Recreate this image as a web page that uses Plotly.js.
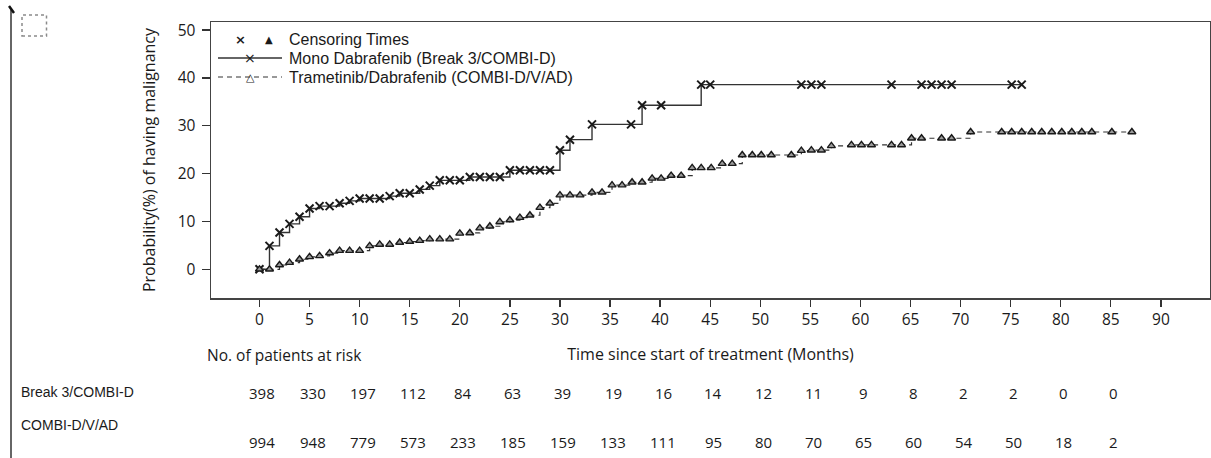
<!DOCTYPE html>
<html>
<head>
<meta charset="utf-8">
<script src="https://cdn.plot.ly/plotly-3.0.1.min.js"></script>
<style>html,body{margin:0;padding:0;background:#fff;}#chart{width:1211px;height:458px;}</style>
</head>
<body>
<div id="chart"></div>
<script>
// ---- Data ----
const monoName = 'Mono Dabrafenib (Break 3/COMBI-D)';
const tramName = 'Trametinib/Dabrafenib (COMBI-D/V/AD)';

// Mono Dabrafenib: months and cumulative probability (%)
const monoTime = [0,1,2,3,4,5,6,7,8,9,10,11,12,13,14,15,16,17,18,19,20,21,22,23,24,25,26,27,28,29,30,31,33.2,37.1,38.2,40.1,44.1,45,54.1,55.1,56.1,63.1,66.1,67.1,68.1,69.1,75.1,76.1];
const monoProb = [0,4.9,7.7,9.5,11.0,12.7,13.2,13.2,13.8,14.3,14.8,14.8,14.8,15.3,15.9,15.9,16.7,17.5,18.6,18.6,18.6,19.3,19.3,19.3,19.3,20.7,20.7,20.7,20.7,20.7,24.9,27.1,30.3,30.3,34.3,34.3,38.6,38.6,38.6,38.6,38.6,38.6,38.6,38.6,38.6,38.6,38.6,38.6];

// Trametinib/Dabrafenib: months and cumulative probability (%)
const tramTime = [0,1,2,3,4,5,6,7,8,9,10,11,12,13,14,15,16,17,18,19,20,21,22,23,24,25,26,27,28,29,30,31,32,33.2,34.2,35.2,36.2,37.2,38.2,39.2,40.1,41.1,42.1,43.2,44.1,45.1,46.2,47.2,48.2,49.2,50.1,51.1,53.1,54.1,55.1,56.1,57.1,59.1,60.1,61.1,63.1,64.1,65.1,66.1,68.1,69.1,71.0,74.1,75.1,76.1,77.1,78.1,79.1,80.1,81.1,82.1,83.1,85.1,87.1];
const tramProb = [0,0,0.9,1.4,2.1,2.6,2.8,3.4,3.9,3.9,3.9,4.9,5.2,5.2,5.6,5.8,6.0,6.3,6.3,6.3,7.5,7.6,8.6,9.0,9.9,10.3,10.8,11.3,12.9,13.8,15.5,15.5,15.5,16.1,16.1,17.6,17.6,18.2,18.2,19.0,19.0,19.6,19.6,21.2,21.2,21.2,22.1,22.1,23.9,23.9,23.9,23.9,23.9,24.8,24.9,24.9,25.8,26.0,26.0,26.0,26.0,26.0,27.4,27.4,27.4,27.4,28.7,28.7,28.7,28.7,28.7,28.7,28.7,28.7,28.7,28.7,28.7,28.7,28.7];

// Number at risk table
const riskTimes = [0,5,10,15,20,25,30,35,40,45,50,55,60,65,70,75,80,85];
const riskMono = [398,330,197,112,84,63,39,19,16,14,12,11,9,8,2,2,0,0];
const riskTram = [994,948,779,573,233,185,159,133,111,95,80,70,65,60,54,50,18,2];
const riskRowLabels = ['Break 3/COMBI-D','COMBI-D/V/AD'];

// Axis ticks
const xTicks = [0,5,10,15,20,25,30,35,40,45,50,55,60,65,70,75,80,85,90];
const yTicks = [0,10,20,30,40,50];

// ---- Layout helpers (pixel -> paper) ----
const W = 1211, H = 458, ML = 211, MR = 1, MT = 22, MB = 160;
const PW = W - ML - MR, PH = H - MT - MB;
const fx = px => (px - ML) / PW;
const fy = py => (H - MB - py) / PH;

const ink = '#1a1a1a';
const lineCol = '#333333';

const traces = [
  {
    x: monoTime, y: monoProb, type: 'scatter', mode: 'lines+markers', name: monoName,
    line: {shape: 'hv', color: lineCol, width: 1.4},
    marker: {symbol: 'x-thin-open', size: 8, color: ink, line: {color: ink, width: 2}},
    hoverinfo: 'skip'
  },
  {
    x: tramTime, y: tramProb, type: 'scatter', mode: 'lines+markers', name: tramName,
    line: {shape: 'hv', color: lineCol, width: 1.2, dash: '5px,4px'},
    marker: {symbol: 'triangle-up', size: 7, color: '#9a9a9a', line: {color: ink, width: 1.4}},
    hoverinfo: 'skip'
  }
];

const legFont = {family: 'Liberation Sans, Arial, sans-serif', size: 16, color: ink};
const annotations = [];
// legend rows
annotations.push({xref:'paper', yref:'paper', x: fx(240), y: fy(39), text:'<b>×</b>', showarrow:false, xanchor:'center', yanchor:'middle', font:{family:'DejaVu Sans', size:13, color:ink}});
annotations.push({xref:'paper', yref:'paper', x: fx(269), y: fy(39), text:'▲', showarrow:false, xanchor:'center', yanchor:'middle', font:{family:'DejaVu Sans', size:10, color:ink}});
annotations.push({xref:'paper', yref:'paper', x: fx(287), y: fy(39), text:'Censoring Times', showarrow:false, xanchor:'left', yanchor:'middle', font:legFont});
annotations.push({xref:'paper', yref:'paper', x: fx(250), y: fy(58), text:'×', showarrow:false, xanchor:'center', yanchor:'middle', font:{family:'DejaVu Sans', size:14, color:ink}});
annotations.push({xref:'paper', yref:'paper', x: fx(287), y: fy(58), text:monoName, showarrow:false, xanchor:'left', yanchor:'middle', font:legFont});
annotations.push({xref:'paper', yref:'paper', x: fx(250), y: fy(77), text:'△', showarrow:false, xanchor:'center', yanchor:'middle', font:{family:'DejaVu Sans', size:11, color:ink}});
annotations.push({xref:'paper', yref:'paper', x: fx(287), y: fy(77), text:tramName, showarrow:false, xanchor:'left', yanchor:'middle', font:legFont});

// at-risk table
annotations.push({xref:'paper', yref:'paper', x: fx(205), y: fy(355), text:'No. of patients at risk', showarrow:false, xanchor:'left', yanchor:'middle', font:{family:'Open Sans', size:15.5, color:ink}});
annotations.push({xref:'paper', yref:'paper', x: fx(19), y: fy(392), text:riskRowLabels[0], showarrow:false, xanchor:'left', yanchor:'middle', font:{family:'Liberation Sans, Arial', size:14, color:ink}});
annotations.push({xref:'paper', yref:'paper', x: fx(19), y: fy(425), text:riskRowLabels[1], showarrow:false, xanchor:'left', yanchor:'middle', font:{family:'Liberation Sans, Arial', size:14, color:ink}});
riskTimes.forEach((t, i) => {
  annotations.push({xref:'x', yref:'paper', x: t, y: fy(393), text: String(riskMono[i]), showarrow:false, xanchor:'center', yanchor:'middle', xshift:3, font:{family:'Open Sans', size:15, color:ink}});
  annotations.push({xref:'x', yref:'paper', x: t, y: fy(442), text: String(riskTram[i]), showarrow:false, xanchor:'center', yanchor:'middle', xshift:3, font:{family:'Open Sans', size:15, color:ink}});
});

const shapes = [
  // legend line samples
  {type:'line', xref:'paper', yref:'paper', x0: fx(218), x1: fx(282), y0: fy(58), y1: fy(58), line:{color:lineCol, width:1.3}},
  {type:'line', xref:'paper', yref:'paper', x0: fx(218), x1: fx(282), y0: fy(77), y1: fy(77), line:{color:lineCol, width:1.2, dash:'5px,4px'}},
  // page decorations at the left
  {type:'line', xref:'paper', yref:'paper', x0: fx(11), x1: fx(11), y0: fy(458), y1: fy(10), line:{color:'#333', width:1.5}},
  {type:'line', xref:'paper', yref:'paper', x0: fx(9), x1: fx(14), y0: fy(6), y1: fy(13), line:{color:'#111', width:2.5}},
  {type:'rect', xref:'paper', yref:'paper', x0: fx(22), x1: fx(46.5), y0: fy(36), y1: fy(15), line:{color:'#8a8a8a', width:1.5, dash:'dot'}}
];

const tickFont = {family:'Open Sans', size:15.5, color:ink};
const titleFont = {family:'Open Sans', size:16, color:ink};
const layout = {
  width: W, height: H,
  margin: {l: ML, r: MR, t: MT, b: MB, pad: 0},
  paper_bgcolor: '#ffffff', plot_bgcolor: '#ffffff',
  showlegend: false,
  font: tickFont,
  xaxis: {
    range: [-4.84, 94.9], tickmode: 'array', tickvals: xTicks, ticktext: xTicks.map(String),
    ticks: 'outside', ticklen: 7, tickwidth: 1.3, tickcolor: '#333',
    showline: true, mirror: true, linecolor: '#444', linewidth: 1.5,
    showgrid: false, zeroline: false, tickfont: tickFont, automargin: false,
    title: {text: 'Time since start of treatment (Months)', font: titleFont, standoff: 19}
  },
  yaxis: {
    range: [-6, 51.7], tickmode: 'array', tickvals: yTicks, ticktext: yTicks.map(String),
    ticks: 'outside', ticklen: 8, tickwidth: 1.3, tickcolor: '#333', ticklabelstandoff: 3,
    showline: true, mirror: true, linecolor: '#444', linewidth: 1.5,
    showgrid: false, zeroline: false, tickfont: tickFont, automargin: false,
    title: {text: 'Probability(%) of having malignancy', font: titleFont, standoff: 18}
  },
  shapes: shapes,
  annotations: annotations
};

Plotly.newPlot('chart', traces, layout, {staticPlot: true, displayModeBar: false});
</script>
</body>
</html>
